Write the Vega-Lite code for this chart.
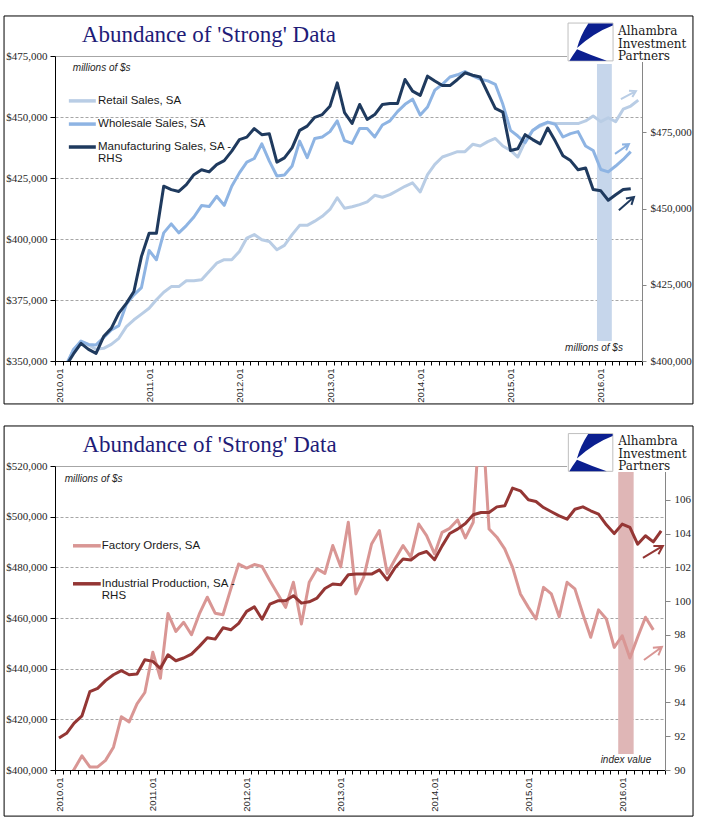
{
  "$schema": "https://vega.github.io/schema/vega-lite/v6.json",
  "padding": {"left": 3, "top": 15, "right": 0, "bottom": 0},
  "background": "white",
  "spacing": 20,
  "config": {
    "view": {"stroke": null},
    "axis": {"labelFont": "Liberation Serif", "labelColor": "#262626"}
  },
  "datasets": {
    "top": [
      {"date": "2010-01", "retail": 344000, "wholesale": 344500, "manufacturing": 396000},
      {"date": "2010-02", "retail": 347500, "wholesale": 348500, "manufacturing": 398500},
      {"date": "2010-03", "retail": 354800, "wholesale": 354500, "manufacturing": 402300},
      {"date": "2010-04", "retail": 357900, "wholesale": 358200, "manufacturing": 405800},
      {"date": "2010-05", "retail": 356600, "wholesale": 356800, "manufacturing": 403800},
      {"date": "2010-06", "retail": 354800, "wholesale": 356600, "manufacturing": 402500},
      {"date": "2010-07", "retail": 355200, "wholesale": 359600, "manufacturing": 408000},
      {"date": "2010-08", "retail": 356800, "wholesale": 362700, "manufacturing": 410700},
      {"date": "2010-09", "retail": 359300, "wholesale": 364500, "manufacturing": 415700},
      {"date": "2010-10", "retail": 364100, "wholesale": 373300, "manufacturing": 418900},
      {"date": "2010-11", "retail": 366900, "wholesale": 377100, "manufacturing": 422800},
      {"date": "2010-12", "retail": 369200, "wholesale": 380100, "manufacturing": 434300},
      {"date": "2011-01", "retail": 371600, "wholesale": 395300, "manufacturing": 441900},
      {"date": "2011-02", "retail": 375100, "wholesale": 391500, "manufacturing": 441900},
      {"date": "2011-03", "retail": 378200, "wholesale": 402500, "manufacturing": 457300},
      {"date": "2011-04", "retail": 380500, "wholesale": 406200, "manufacturing": 456200},
      {"date": "2011-05", "retail": 380500, "wholesale": 402500, "manufacturing": 455600},
      {"date": "2011-06", "retail": 382900, "wholesale": 405500, "manufacturing": 457800},
      {"date": "2011-07", "retail": 382900, "wholesale": 409000, "manufacturing": 461100},
      {"date": "2011-08", "retail": 383300, "wholesale": 413700, "manufacturing": 462700},
      {"date": "2011-09", "retail": 386700, "wholesale": 413300, "manufacturing": 462000},
      {"date": "2011-10", "retail": 390100, "wholesale": 417500, "manufacturing": 464400},
      {"date": "2011-11", "retail": 391500, "wholesale": 413800, "manufacturing": 465700},
      {"date": "2011-12", "retail": 391500, "wholesale": 421600, "manufacturing": 468800},
      {"date": "2012-01", "retail": 394900, "wholesale": 427100, "manufacturing": 472600},
      {"date": "2012-02", "retail": 400400, "wholesale": 431500, "manufacturing": 473400},
      {"date": "2012-03", "retail": 401800, "wholesale": 433000, "manufacturing": 476200},
      {"date": "2012-04", "retail": 399700, "wholesale": 439000, "manufacturing": 474200},
      {"date": "2012-05", "retail": 399000, "wholesale": 431900, "manufacturing": 474500},
      {"date": "2012-06", "retail": 395600, "wholesale": 425800, "manufacturing": 465200},
      {"date": "2012-07", "retail": 397400, "wholesale": 426200, "manufacturing": 466600},
      {"date": "2012-08", "retail": 401800, "wholesale": 429900, "manufacturing": 469900},
      {"date": "2012-09", "retail": 405600, "wholesale": 440100, "manufacturing": 475600},
      {"date": "2012-10", "retail": 405600, "wholesale": 433300, "manufacturing": 477000},
      {"date": "2012-11", "retail": 407300, "wholesale": 441200, "manufacturing": 479900},
      {"date": "2012-12", "retail": 409300, "wholesale": 441800, "manufacturing": 480800},
      {"date": "2013-01", "retail": 412100, "wholesale": 444000, "manufacturing": 483500},
      {"date": "2013-02", "retail": 416900, "wholesale": 448400, "manufacturing": 491200},
      {"date": "2013-03", "retail": 412600, "wholesale": 440300, "manufacturing": 481400},
      {"date": "2013-04", "retail": 413200, "wholesale": 439200, "manufacturing": 477900},
      {"date": "2013-05", "retail": 414100, "wholesale": 445300, "manufacturing": 484100},
      {"date": "2013-06", "retail": 415200, "wholesale": 445300, "manufacturing": 479200},
      {"date": "2013-07", "retail": 417900, "wholesale": 441800, "manufacturing": 480800},
      {"date": "2013-08", "retail": 417100, "wholesale": 446700, "manufacturing": 484100},
      {"date": "2013-09", "retail": 418200, "wholesale": 448400, "manufacturing": 484400},
      {"date": "2013-10", "retail": 419900, "wholesale": 452200, "manufacturing": 484400},
      {"date": "2013-11", "retail": 421600, "wholesale": 455200, "manufacturing": 492300},
      {"date": "2013-12", "retail": 423000, "wholesale": 457300, "manufacturing": 488500},
      {"date": "2014-01", "retail": 419300, "wholesale": 450800, "manufacturing": 487100},
      {"date": "2014-02", "retail": 426400, "wholesale": 454100, "manufacturing": 493400},
      {"date": "2014-03", "retail": 430600, "wholesale": 461000, "manufacturing": 491800},
      {"date": "2014-04", "retail": 433600, "wholesale": 463400, "manufacturing": 490300},
      {"date": "2014-05", "retail": 434700, "wholesale": 466400, "manufacturing": 490300},
      {"date": "2014-06", "retail": 435800, "wholesale": 467300, "manufacturing": 492300},
      {"date": "2014-07", "retail": 435800, "wholesale": 468600, "manufacturing": 494500},
      {"date": "2014-08", "retail": 438800, "wholesale": 466900, "manufacturing": 493700},
      {"date": "2014-09", "retail": 438100, "wholesale": 465500, "manufacturing": 493100},
      {"date": "2014-10", "retail": 439900, "wholesale": 464800, "manufacturing": 487900},
      {"date": "2014-11", "retail": 441200, "wholesale": 463400, "manufacturing": 482800},
      {"date": "2014-12", "retail": 438100, "wholesale": 455200, "manufacturing": 481600},
      {"date": "2015-01", "retail": 436300, "wholesale": 444500, "manufacturing": 469000},
      {"date": "2015-02", "retail": 433600, "wholesale": 442200, "manufacturing": 469600},
      {"date": "2015-03", "retail": 439900, "wholesale": 439500, "manufacturing": 474200},
      {"date": "2015-04", "retail": 444500, "wholesale": 444500, "manufacturing": 472600},
      {"date": "2015-05", "retail": 446300, "wholesale": 446700, "manufacturing": 471200},
      {"date": "2015-06", "retail": 447700, "wholesale": 447900, "manufacturing": 476400},
      {"date": "2015-07", "retail": 447300, "wholesale": 447000, "manufacturing": 472100},
      {"date": "2015-08", "retail": 447300, "wholesale": 441800, "manufacturing": 467300},
      {"date": "2015-09", "retail": 447300, "wholesale": 443200, "manufacturing": 465700},
      {"date": "2015-10", "retail": 447300, "wholesale": 444000, "manufacturing": 462700},
      {"date": "2015-11", "retail": 448400, "wholesale": 438100, "manufacturing": 463300},
      {"date": "2015-12", "retail": 450400, "wholesale": 436300, "manufacturing": 456200},
      {"date": "2016-01", "retail": 448100, "wholesale": 428500, "manufacturing": 455800},
      {"date": "2016-02", "retail": 449700, "wholesale": 427500, "manufacturing": 452700},
      {"date": "2016-03", "retail": 448100, "wholesale": 429900, "manufacturing": 454500},
      {"date": "2016-04", "retail": 453200, "wholesale": 432600, "manufacturing": 456200},
      {"date": "2016-05", "retail": 454500, "wholesale": 435800, "manufacturing": 456500},
      {"date": "2016-06", "retail": 456900, "wholesale": null, "manufacturing": null}
    ],
    "bottom": [
      {"date": "2010-01", "orders": 393000, "ip": 91.89},
      {"date": "2010-02", "orders": 396000, "ip": 92.17},
      {"date": "2010-03", "orders": 400300, "ip": 92.78},
      {"date": "2010-04", "orders": 405600, "ip": 93.21},
      {"date": "2010-05", "orders": 401200, "ip": 94.64},
      {"date": "2010-06", "orders": 401200, "ip": 94.83},
      {"date": "2010-07", "orders": 403800, "ip": 95.29},
      {"date": "2010-08", "orders": 409000, "ip": 95.64},
      {"date": "2010-09", "orders": 421000, "ip": 95.88},
      {"date": "2010-10", "orders": 419000, "ip": 95.64},
      {"date": "2010-11", "orders": 426100, "ip": 95.68},
      {"date": "2010-12", "orders": 430600, "ip": 96.53},
      {"date": "2011-01", "orders": 446500, "ip": 96.43},
      {"date": "2011-02", "orders": 436200, "ip": 96.02},
      {"date": "2011-03", "orders": 461800, "ip": 96.82},
      {"date": "2011-04", "orders": 454700, "ip": 96.47},
      {"date": "2011-05", "orders": 458300, "ip": 96.63},
      {"date": "2011-06", "orders": 453400, "ip": 96.86},
      {"date": "2011-07", "orders": 461600, "ip": 97.32},
      {"date": "2011-08", "orders": 468200, "ip": 97.83},
      {"date": "2011-09", "orders": 461900, "ip": 97.75},
      {"date": "2011-10", "orders": 461300, "ip": 98.42},
      {"date": "2011-11", "orders": 471500, "ip": 98.30},
      {"date": "2011-12", "orders": 481300, "ip": 98.68},
      {"date": "2012-01", "orders": 479700, "ip": 99.39},
      {"date": "2012-02", "orders": 481100, "ip": 99.66},
      {"date": "2012-03", "orders": 480300, "ip": 98.93},
      {"date": "2012-04", "orders": 474700, "ip": 99.82},
      {"date": "2012-05", "orders": 469500, "ip": 100.02},
      {"date": "2012-06", "orders": 464200, "ip": 100.02},
      {"date": "2012-07", "orders": 474100, "ip": 100.32},
      {"date": "2012-08", "orders": 457600, "ip": 99.88},
      {"date": "2012-09", "orders": 474100, "ip": 99.96},
      {"date": "2012-10", "orders": 479400, "ip": 100.18},
      {"date": "2012-11", "orders": 477600, "ip": 100.75},
      {"date": "2012-12", "orders": 488600, "ip": 101.01},
      {"date": "2013-01", "orders": 480200, "ip": 100.97},
      {"date": "2013-02", "orders": 497800, "ip": 101.56},
      {"date": "2013-03", "orders": 469500, "ip": 101.60},
      {"date": "2013-04", "orders": 476100, "ip": 101.60},
      {"date": "2013-05", "orders": 489200, "ip": 101.60},
      {"date": "2013-06", "orders": 494500, "ip": 101.85},
      {"date": "2013-07", "orders": 477600, "ip": 101.26},
      {"date": "2013-08", "orders": 483300, "ip": 101.99},
      {"date": "2013-09", "orders": 488600, "ip": 102.49},
      {"date": "2013-10", "orders": 484000, "ip": 102.43},
      {"date": "2013-11", "orders": 497100, "ip": 102.78},
      {"date": "2013-12", "orders": 492500, "ip": 102.94},
      {"date": "2014-01", "orders": 485300, "ip": 102.45},
      {"date": "2014-02", "orders": 493800, "ip": 103.27},
      {"date": "2014-03", "orders": 495400, "ip": 104.00},
      {"date": "2014-04", "orders": 498700, "ip": 104.26},
      {"date": "2014-05", "orders": 491600, "ip": 104.60},
      {"date": "2014-06", "orders": 497800, "ip": 105.11},
      {"date": "2014-07", "orders": 547000, "ip": 105.25},
      {"date": "2014-08", "orders": 495100, "ip": 105.25},
      {"date": "2014-09", "orders": 491900, "ip": 105.58},
      {"date": "2014-10", "orders": 487300, "ip": 105.64},
      {"date": "2014-11", "orders": 480000, "ip": 106.69},
      {"date": "2014-12", "orders": 469500, "ip": 106.53},
      {"date": "2015-01", "orders": 464200, "ip": 106.00},
      {"date": "2015-02", "orders": 459600, "ip": 105.90},
      {"date": "2015-03", "orders": 472100, "ip": 105.54},
      {"date": "2015-04", "orders": 469500, "ip": 105.29},
      {"date": "2015-05", "orders": 460500, "ip": 105.05},
      {"date": "2015-06", "orders": 474100, "ip": 104.85},
      {"date": "2015-07", "orders": 471500, "ip": 105.44},
      {"date": "2015-08", "orders": 461600, "ip": 105.58},
      {"date": "2015-09", "orders": 452400, "ip": 105.35},
      {"date": "2015-10", "orders": 463200, "ip": 105.15},
      {"date": "2015-11", "orders": 459600, "ip": 104.52},
      {"date": "2015-12", "orders": 448400, "ip": 104.00},
      {"date": "2016-01", "orders": 453000, "ip": 104.56},
      {"date": "2016-02", "orders": 444200, "ip": 104.36},
      {"date": "2016-03", "orders": 452400, "ip": 103.37},
      {"date": "2016-04", "orders": 460300, "ip": 103.87},
      {"date": "2016-05", "orders": 455300, "ip": 103.51},
      {"date": "2016-06", "orders": null, "ip": 104.16}
    ]
  },
  "vconcat": [
    {
      "width": 587,
      "height": 305,
      "data": {"name": "top"},
      "resolve": {"scale": {"y": "independent"}},
      "layer": [
        {
          "layer": [
            {
              "data": {"values": [{}]},
              "mark": {"type": "rect", "filled": false, "stroke": "#000000", "strokeWidth": 1, "clip": false},
              "encoding": {
                "x": {"datum": {"year": 2009, "month": 6, "date": 9, "utc": true}, "type": "temporal"},
                "x2": {"datum": {"year": 2017, "month": 1, "date": 23, "utc": true}},
                "y": {"datum": 491400, "type": "quantitative"},
                "y2": {"datum": 332400}
              }
            },
            {
              "data": {"values": [{}]},
              "mark": {"type": "rect", "color": "#c6d6eb"},
              "encoding": {
                "x": {"datum": {"year": 2016, "month": 1, "date": 1, "utc": true}, "type": "temporal"},
                "x2": {"datum": {"year": 2016, "month": 3, "date": 1, "utc": true}},
                "y": {"datum": 471700, "type": "quantitative"},
                "y2": {"datum": 358200}
              }
            },
            {
              "mark": {"type": "line", "color": "#b9cde5", "strokeWidth": 3, "strokeJoin": "round", "clip": true},
              "encoding": {
                "x": {
                  "field": "date", "timeUnit": "utcyearmonth", "type": "temporal", "bandPosition": 0.5,
                  "scale": {"type": "utc", "domain": [{"year": 2010, "month": 1, "date": 1, "utc": true}, {"year": 2016, "month": 7, "date": 1, "utc": true}], "nice": false},
                  "axis": {
                    "title": null, "orient": "bottom", "grid": false,
                    "tickCount": {"interval": "month", "step": 1},
                    "labelExpr": "utcmonth(datum.value) === 0 ? utcFormat(datum.value, '%Y.%m') : ''",
                    "labelAngle": -90, "labelFont": "Liberation Sans", "labelFontSize": 9.5, "labelColor": "#262626",
                    "labelOffset": 4, "labelPadding": 3, "labelOverlap": false, "labelBound": false, "labelFlush": false,
                    "tickSize": 4, "tickColor": "#000000", "domainColor": "#000000"
                  }
                },
                "y": {
                  "field": "retail", "type": "quantitative",
                  "scale": {"domain": [350000, 475000], "nice": false, "zero": false},
                  "axis": {
                    "orient": "left", "title": null, "values": [350000, 375000, 400000, 425000, 450000, 475000],
                    "format": "$,.0f", "labelFontSize": 11, "labelPadding": 3, "tickSize": 5,
                    "tickColor": "#000000", "domainColor": "#000000",
                    "grid": true, "gridColor": "#a6a6a6",
                    "gridDash": {"condition": {"test": "datum.value === 475000", "value": []}, "value": [3, 2]}
                  }
                }
              }
            },
            {
              "mark": {"type": "line", "color": "#8eb4e3", "strokeWidth": 3, "strokeJoin": "round", "clip": true},
              "encoding": {
                "x": {"field": "date", "timeUnit": "utcyearmonth", "type": "temporal", "bandPosition": 0.5},
                "y": {"field": "wholesale", "type": "quantitative"}
              }
            }
          ]
        },
        {
          "layer": [
            {
              "mark": {"type": "line", "color": "#1f3a5e", "strokeWidth": 3, "strokeJoin": "round", "clip": true},
              "encoding": {
                "x": {"field": "date", "timeUnit": "utcyearmonth", "type": "temporal", "bandPosition": 0.5},
                "y": {
                  "field": "manufacturing", "type": "quantitative",
                  "scale": {"domain": [400000, 500000], "nice": false, "zero": false},
                  "axis": {
                    "orient": "right", "title": null, "values": [400000, 425000, 450000, 475000],
                    "format": "$,.0f", "labelFontSize": 11, "labelPadding": 4, "tickSize": 4,
                    "tickColor": "#868686", "domainColor": "#868686", "grid": false
                  }
                }
              }
            }
          ]
        },
        {
          "layer": [
            {
              "data": {"values": [{}]},
              "mark": {"type": "rect", "color": "#ffffff", "clip": false},
              "encoding": {
                "x": {"datum": {"year": 2015, "month": 9, "date": 2, "utc": true}, "type": "temporal"},
                "x2": {"datum": {"year": 2017, "month": 1, "date": 15, "utc": true}},
                "y": {"datum": 489300, "type": "quantitative", "scale": {"domain": [350000, 475000], "nice": false, "zero": false}, "axis": null},
                "y2": {"datum": 472500}
              }
            },
            {
              "data": {"values": [{}]},
              "mark": {"type": "rect", "fill": "#ffffff", "stroke": "#bfbfbf", "strokeWidth": 1, "clip": false},
              "encoding": {
                "x": {"datum": {"year": 2015, "month": 9, "date": 6, "utc": true}, "type": "temporal"},
                "x2": {"datum": {"year": 2016, "month": 3, "date": 6, "utc": true}},
                "y": {"datum": 488500, "type": "quantitative", "axis": null},
                "y2": {"datum": 473000}
              }
            },
            {
              "data": {"values": [{}]},
              "mark": {"type": "point", "shape": "M-0.1,-0.83L0.985,-0.83L0.985,-0.74Q0.15,-0.42 -0.6,0.26Q-0.45,-0.3 -0.1,-0.83ZM-0.6,0.32Q-0.8,0.6 -0.94,0.83L0.72,0.83Q0.0,0.58 -0.6,0.32Z", "filled": true, "fill": "#0b1f8f", "fillOpacity": 1, "strokeWidth": 0, "size": 2025, "clip": false},
              "encoding": {
                "x": {"datum": {"year": 2015, "month": 12, "date": 6, "utc": true}, "type": "temporal"},
                "y": {"datum": 480700, "type": "quantitative", "axis": null}
              }
            },
            {
              "data": {"values": [{}]},
              "mark": {"type": "text", "text": ["Alhambra", "Investment", "Partners"], "font": "DejaVu Serif", "fontSize": 12, "lineHeight": 12.5, "align": "left", "baseline": "alphabetic", "color": "#1a1a1a", "clip": false},
              "encoding": {
                "x": {"datum": {"year": 2016, "month": 3, "date": 26, "utc": true}, "type": "temporal"},
                "y": {"datum": 483600, "type": "quantitative", "axis": null}
              }
            },
            {
              "data": {"values": [{}]},
              "mark": {"type": "text", "text": "Abundance of 'Strong' Data", "font": "Liberation Serif", "fontSize": 23, "align": "center", "baseline": "alphabetic", "color": "#1f1c78", "clip": false},
              "encoding": {
                "x": {"datum": {"year": 2011, "month": 9, "date": 15, "utc": true}, "type": "temporal"},
                "y": {"datum": 480700, "type": "quantitative", "axis": null}
              }
            },
            {
              "data": {"values": [{}]},
              "mark": {"type": "text", "text": "millions of $s", "font": "Liberation Sans", "fontStyle": "italic", "fontSize": 10, "align": "left", "baseline": "middle", "color": "#262626"},
              "encoding": {
                "x": {"datum": {"year": 2010, "month": 3, "date": 14, "utc": true}, "type": "temporal"},
                "y": {"datum": 470100, "type": "quantitative", "axis": null}
              }
            },
            {
              "data": {"values": [{}]},
              "mark": {"type": "text", "text": "millions of $s", "font": "Liberation Sans", "fontStyle": "italic", "fontSize": 10, "align": "center", "baseline": "middle", "color": "#262626"},
              "encoding": {
                "x": {"datum": {"year": 2015, "month": 12, "date": 20, "utc": true}, "type": "temporal"},
                "y": {"datum": 355300, "type": "quantitative", "axis": null}
              }
            },
            {
              "data": {"values": [{}]},
              "mark": {"type": "rule", "color": "#b9cde5", "strokeWidth": 3.5},
              "encoding": {
                "x": {"datum": {"year": 2010, "month": 2, "date": 26, "utc": true}, "type": "temporal"},
                "x2": {"datum": {"year": 2010, "month": 6, "date": 15, "utc": true}},
                "y": {"datum": 456600, "type": "quantitative", "axis": null}
              }
            },
            {
              "data": {"values": [{}]},
              "mark": {"type": "rule", "color": "#8eb4e3", "strokeWidth": 3.5},
              "encoding": {
                "x": {"datum": {"year": 2010, "month": 2, "date": 26, "utc": true}, "type": "temporal"},
                "x2": {"datum": {"year": 2010, "month": 6, "date": 15, "utc": true}},
                "y": {"datum": 447100, "type": "quantitative", "axis": null}
              }
            },
            {
              "data": {"values": [{}]},
              "mark": {"type": "rule", "color": "#1f3a5e", "strokeWidth": 3.5},
              "encoding": {
                "x": {"datum": {"year": 2010, "month": 2, "date": 26, "utc": true}, "type": "temporal"},
                "x2": {"datum": {"year": 2010, "month": 6, "date": 15, "utc": true}},
                "y": {"datum": 437700, "type": "quantitative", "axis": null}
              }
            },
            {
              "data": {"values": [{}]},
              "mark": {"type": "text", "text": "Retail Sales, SA", "font": "Liberation Sans", "fontSize": 11.5, "align": "left", "baseline": "middle", "color": "#1a1a1a"},
              "encoding": {
                "x": {"datum": {"year": 2010, "month": 6, "date": 24, "utc": true}, "type": "temporal"},
                "y": {"datum": 456600, "type": "quantitative", "axis": null}
              }
            },
            {
              "data": {"values": [{}]},
              "mark": {"type": "text", "text": "Wholesale Sales, SA", "font": "Liberation Sans", "fontSize": 11.5, "align": "left", "baseline": "middle", "color": "#1a1a1a"},
              "encoding": {
                "x": {"datum": {"year": 2010, "month": 6, "date": 24, "utc": true}, "type": "temporal"},
                "y": {"datum": 447100, "type": "quantitative", "axis": null}
              }
            },
            {
              "data": {"values": [{}]},
              "mark": {"type": "text", "text": ["Manufacturing Sales, SA -", "RHS"], "lineHeight": 12, "font": "Liberation Sans", "fontSize": 11.5, "align": "left", "baseline": "middle", "color": "#1a1a1a"},
              "encoding": {
                "x": {"datum": {"year": 2010, "month": 6, "date": 24, "utc": true}, "type": "temporal"},
                "y": {"datum": 437700, "type": "quantitative", "axis": null}
              }
            },
            {
              "data": {"values": [{}]},
              "mark": {"type": "point", "shape": "M-1,0L1,0M0.3,-0.42L1,0L0.3,0.42", "filled": false, "stroke": "#b9cde5", "strokeWidth": 2, "opacity": 1, "size": 289, "angle": -28},
              "encoding": {
                "x": {"datum": {"year": 2016, "month": 5, "date": 7, "utc": true}, "type": "temporal"},
                "y": {"datum": 459000, "type": "quantitative", "axis": null}
              }
            },
            {
              "data": {"values": [{}]},
              "mark": {"type": "point", "shape": "M-1,0L1,0M0.3,-0.42L1,0L0.3,0.42", "filled": false, "stroke": "#8eb4e3", "strokeWidth": 2, "opacity": 1, "size": 289, "angle": -35},
              "encoding": {
                "x": {"datum": {"year": 2016, "month": 4, "date": 11, "utc": true}, "type": "temporal"},
                "y": {"datum": 436900, "type": "quantitative", "axis": null}
              }
            },
            {
              "data": {"values": [{}]},
              "mark": {"type": "point", "shape": "M-1,0L1,0M0.3,-0.42L1,0L0.3,0.42", "filled": false, "stroke": "#1f3a5e", "strokeWidth": 2, "opacity": 1, "size": 400, "angle": -41},
              "encoding": {
                "x": {"datum": {"year": 2016, "month": 4, "date": 29, "utc": true}, "type": "temporal"},
                "y": {"datum": 414500, "type": "quantitative", "axis": null}
              }
            }
          ]
        }
      ]
    },
    {
      "width": 610,
      "height": 304,
      "data": {"name": "bottom"},
      "resolve": {"scale": {"y": "independent"}},
      "layer": [
        {
          "layer": [
            {
              "data": {"values": [{}]},
              "mark": {"type": "rect", "filled": false, "stroke": "#000000", "strokeWidth": 1, "clip": false},
              "encoding": {
                "x": {"datum": {"year": 2009, "month": 6, "date": 17, "utc": true}, "type": "temporal"},
                "x2": {"datum": {"year": 2016, "month": 10, "date": 18, "utc": true}},
                "y": {"datum": 535800, "type": "quantitative"},
                "y2": {"datum": 381800}
              }
            },
            {
              "data": {"values": [{}]},
              "mark": {"type": "rect", "color": "#dfb6b6"},
              "encoding": {
                "x": {"datum": {"year": 2016, "month": 1, "date": 1, "utc": true}, "type": "temporal"},
                "x2": {"datum": {"year": 2016, "month": 3, "date": 1, "utc": true}},
                "y": {"datum": 518000, "type": "quantitative"},
                "y2": {"datum": 406300}
              }
            },
            {
              "mark": {"type": "line", "color": "#d99694", "strokeWidth": 3, "strokeJoin": "round", "clip": true},
              "encoding": {
                "x": {
                  "field": "date", "timeUnit": "utcyearmonth", "type": "temporal", "bandPosition": 0.5,
                  "scale": {"type": "utc", "domain": [{"year": 2010, "month": 1, "date": 1, "utc": true}, {"year": 2016, "month": 7, "date": 1, "utc": true}], "nice": false},
                  "axis": {
                    "title": null, "orient": "bottom", "grid": false,
                    "tickCount": {"interval": "month", "step": 1},
                    "labelExpr": "utcmonth(datum.value) === 0 ? utcFormat(datum.value, '%Y.%m') : ''",
                    "labelAngle": -90, "labelFont": "Liberation Sans", "labelFontSize": 9.5, "labelColor": "#262626",
                    "labelOffset": 4, "labelPadding": 3, "labelOverlap": false, "labelBound": false, "labelFlush": false,
                    "tickSize": 4, "tickColor": "#000000", "domainColor": "#000000"
                  }
                },
                "y": {
                  "field": "orders", "type": "quantitative",
                  "scale": {"domain": [400000, 520000], "nice": false, "zero": false},
                  "axis": {
                    "orient": "left", "title": null, "values": [400000, 420000, 440000, 460000, 480000, 500000, 520000],
                    "format": "$,.0f", "labelFontSize": 11, "labelPadding": 3, "tickSize": 5,
                    "tickColor": "#000000", "domainColor": "#000000",
                    "grid": true, "gridColor": "#a6a6a6",
                    "gridDash": {"condition": {"test": "datum.value === 520000", "value": []}, "value": [3, 2]}
                  }
                }
              }
            }
          ]
        },
        {
          "layer": [
            {
              "mark": {"type": "line", "color": "#943634", "strokeWidth": 3, "strokeJoin": "round", "clip": true},
              "encoding": {
                "x": {"field": "date", "timeUnit": "utcyearmonth", "type": "temporal", "bandPosition": 0.5},
                "y": {
                  "field": "ip", "type": "quantitative",
                  "scale": {"domain": [90, 108], "nice": false, "zero": false},
                  "axis": {
                    "orient": "right", "title": null, "values": [90, 92, 94, 96, 98, 100, 102, 104, 106],
                    "format": "d", "labelFontSize": 11, "labelPadding": 4, "tickSize": 5,
                    "tickColor": "#868686", "domainColor": "#868686", "grid": false
                  }
                }
              }
            }
          ]
        },
        {
          "layer": [
            {
              "data": {"values": [{}]},
              "mark": {"type": "rect", "color": "#ffffff", "clip": false},
              "encoding": {
                "x": {"datum": {"year": 2015, "month": 6, "date": 16, "utc": true}, "type": "temporal"},
                "x2": {"datum": {"year": 2016, "month": 10, "date": 10, "utc": true}},
                "y": {"datum": 533400, "type": "quantitative", "scale": {"domain": [400000, 520000], "nice": false, "zero": false}, "axis": null},
                "y2": {"datum": 517600}
              }
            },
            {
              "data": {"values": [{}]},
              "mark": {"type": "rect", "fill": "#ffffff", "stroke": "#bfbfbf", "strokeWidth": 1, "clip": false},
              "encoding": {
                "x": {"datum": {"year": 2015, "month": 6, "date": 21, "utc": true}, "type": "temporal"},
                "x2": {"datum": {"year": 2015, "month": 12, "date": 11, "utc": true}},
                "y": {"datum": 532800, "type": "quantitative", "axis": null},
                "y2": {"datum": 517900}
              }
            },
            {
              "data": {"values": [{}]},
              "mark": {"type": "point", "shape": "M-0.1,-0.83L0.985,-0.83L0.985,-0.74Q0.15,-0.42 -0.6,0.26Q-0.45,-0.3 -0.1,-0.83ZM-0.6,0.32Q-0.8,0.6 -0.94,0.83L0.72,0.83Q0.0,0.58 -0.6,0.32Z", "filled": true, "fill": "#0b1f8f", "fillOpacity": 1, "strokeWidth": 0, "size": 2025, "clip": false},
              "encoding": {
                "x": {"datum": {"year": 2015, "month": 9, "date": 15, "utc": true}, "type": "temporal"},
                "y": {"datum": 525300, "type": "quantitative", "axis": null}
              }
            },
            {
              "data": {"values": [{}]},
              "mark": {"type": "text", "text": ["Alhambra", "Investment", "Partners"], "font": "DejaVu Serif", "fontSize": 12, "lineHeight": 12.5, "align": "left", "baseline": "alphabetic", "color": "#1a1a1a", "clip": false},
              "encoding": {
                "x": {"datum": {"year": 2016, "month": 1, "date": 1, "utc": true}, "type": "temporal"},
                "y": {"datum": 528100, "type": "quantitative", "axis": null}
              }
            },
            {
              "data": {"values": [{}]},
              "mark": {"type": "text", "text": "Abundance of 'Strong' Data", "font": "Liberation Serif", "fontSize": 23, "align": "center", "baseline": "alphabetic", "color": "#1f1c78", "clip": false},
              "encoding": {
                "x": {"datum": {"year": 2011, "month": 8, "date": 25, "utc": true}, "type": "temporal"},
                "y": {"datum": 525400, "type": "quantitative", "axis": null}
              }
            },
            {
              "data": {"values": [{}]},
              "mark": {"type": "text", "text": "millions of $s", "font": "Liberation Sans", "fontStyle": "italic", "fontSize": 10, "align": "left", "baseline": "middle", "color": "#262626"},
              "encoding": {
                "x": {"datum": {"year": 2010, "month": 2, "date": 8, "utc": true}, "type": "temporal"},
                "y": {"datum": 514900, "type": "quantitative", "axis": null}
              }
            },
            {
              "data": {"values": [{}]},
              "mark": {"type": "text", "text": "index value", "font": "Liberation Sans", "fontStyle": "italic", "fontSize": 10, "align": "center", "baseline": "middle", "color": "#262626"},
              "encoding": {
                "x": {"datum": {"year": 2016, "month": 1, "date": 31, "utc": true}, "type": "temporal"},
                "y": {"datum": 403900, "type": "quantitative", "axis": null}
              }
            },
            {
              "data": {"values": [{}]},
              "mark": {"type": "rule", "color": "#d99694", "strokeWidth": 3.5},
              "encoding": {
                "x": {"datum": {"year": 2010, "month": 3, "date": 12, "utc": true}, "type": "temporal"},
                "x2": {"datum": {"year": 2010, "month": 6, "date": 28, "utc": true}},
                "y": {"datum": 488500, "type": "quantitative", "axis": null}
              }
            },
            {
              "data": {"values": [{}]},
              "mark": {"type": "rule", "color": "#943634", "strokeWidth": 3.5},
              "encoding": {
                "x": {"datum": {"year": 2010, "month": 3, "date": 12, "utc": true}, "type": "temporal"},
                "x2": {"datum": {"year": 2010, "month": 6, "date": 28, "utc": true}},
                "y": {"datum": 473500, "type": "quantitative", "axis": null}
              }
            },
            {
              "data": {"values": [{}]},
              "mark": {"type": "text", "text": "Factory Orders, SA", "font": "Liberation Sans", "fontSize": 11.5, "align": "left", "baseline": "middle", "color": "#1a1a1a"},
              "encoding": {
                "x": {"datum": {"year": 2010, "month": 7, "date": 2, "utc": true}, "type": "temporal"},
                "y": {"datum": 488500, "type": "quantitative", "axis": null}
              }
            },
            {
              "data": {"values": [{}]},
              "mark": {"type": "text", "text": ["Industrial Production, SA -", "RHS"], "lineHeight": 12, "font": "Liberation Sans", "fontSize": 11.5, "align": "left", "baseline": "middle", "color": "#1a1a1a"},
              "encoding": {
                "x": {"datum": {"year": 2010, "month": 7, "date": 2, "utc": true}, "type": "temporal"},
                "y": {"datum": 473500, "type": "quantitative", "axis": null}
              }
            },
            {
              "data": {"values": [{}]},
              "mark": {"type": "point", "shape": "M-1,0L1,0M0.3,-0.42L1,0L0.3,0.42", "filled": false, "stroke": "#943634", "strokeWidth": 2, "opacity": 1, "size": 543, "angle": -31},
              "encoding": {
                "x": {"datum": {"year": 2016, "month": 5, "date": 15, "utc": true}, "type": "temporal"},
                "y": {"datum": 486100, "type": "quantitative", "axis": null}
              }
            },
            {
              "data": {"values": [{}]},
              "mark": {"type": "point", "shape": "M-1,0L1,0M0.3,-0.42L1,0L0.3,0.42", "filled": false, "stroke": "#d99694", "strokeWidth": 2, "opacity": 1, "size": 493, "angle": -36},
              "encoding": {
                "x": {"datum": {"year": 2016, "month": 5, "date": 15, "utc": true}, "type": "temporal"},
                "y": {"datum": 446000, "type": "quantitative", "axis": null}
              }
            }
          ]
        }
      ]
    }
  ]
}
